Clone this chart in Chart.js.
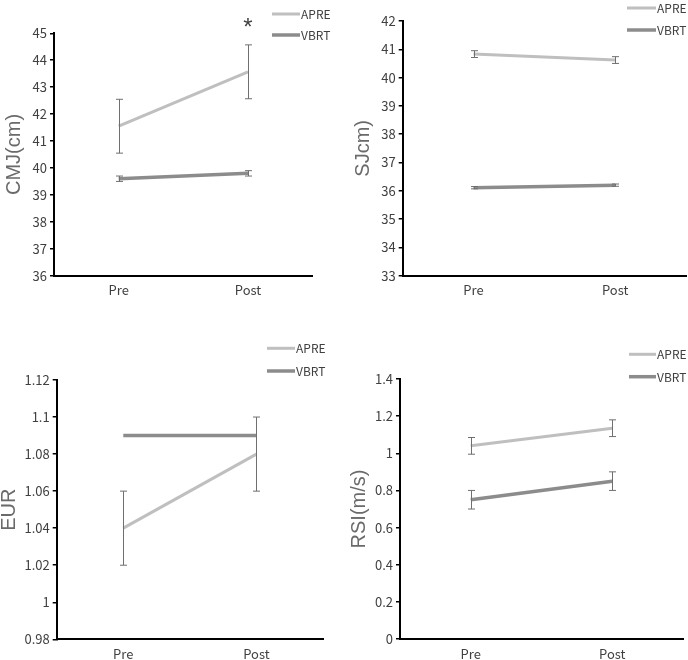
<!DOCTYPE html>
<html>
<head>
<meta charset="utf-8">
<script src="https://cdn.jsdelivr.net/npm/chart.js@4"></script>
<style>
  html, body { margin: 0; padding: 0; background: #fff; }
  canvas { position: absolute; }
</style>
</head>
<body>
<canvas id="cmj" width="344" height="300" style="left:0;top:0"></canvas>
<canvas id="sj" width="344" height="300" style="left:344px;top:0"></canvas>
<canvas id="eur" width="344" height="360" style="left:0;top:300px"></canvas>
<canvas id="rsi" width="344" height="360" style="left:344px;top:300px"></canvas>
<script>
const categories = ['Pre', 'Post'];
const groups = ['APRE', 'VBRT'];

// mean and sd per group
const cmjApre = [41.55, 43.57];
const cmjApreSd = [1.0, 1.0];
const cmjVbrt = [39.6, 39.8];
const cmjVbrtSd = [0.1, 0.1];
const cmjStars = ['', '*'];
const cmjTicks = [36, 45, 1]; // min, max, step

const sjApre = [40.83, 40.62];
const sjApreSd = [0.12, 0.12];
const sjVbrt = [36.11, 36.2];
const sjVbrtSd = [0.04, 0.04];
const sjTicks = [33, 42, 1];

const eurApre = [1.04, 1.08];
const eurApreSd = [0.02, 0.02];
const eurVbrt = [1.09, 1.09];
const eurVbrtSd = [0, 0];
const eurTicks = [0.98, 1.12, 0.02];

const rsiApre = [1.04, 1.135];
const rsiApreSd = [0.045, 0.045];
const rsiVbrt = [0.75, 0.85];
const rsiVbrtSd = [0.05, 0.05];
const rsiTicks = [0, 1.4, 0.2];

const COLORS = ['#bfbfbf', '#8c8c8c'];
const WIDTHS = [3, 3.5];
const FONT = '"Noto Sans CJK SC", "Liberation Sans", sans-serif';

// draws sd whiskers, the legend and the significance star
const extras = {
  id: 'extras',
  afterDatasetsDraw(chart, args, opts) {
    const ctx = chart.ctx;
    const x = chart.scales.x, y = chart.scales.y;
    ctx.save();
    ctx.strokeStyle = '#6f6f6f';
    ctx.lineWidth = 1;
    chart.data.datasets.forEach(ds => {
      ds.data.forEach((v, i) => {
        const e = ds.errors[i];
        if (!e) return;
        const px = Math.round(x.getPixelForValue(i)) + 0.5;
        const top = y.getPixelForValue(v + e), bot = y.getPixelForValue(v - e);
        ctx.beginPath();
        ctx.moveTo(px, top); ctx.lineTo(px, bot);
        ctx.moveTo(px - 3.5, top); ctx.lineTo(px + 3.5, top);
        ctx.moveTo(px - 3.5, bot); ctx.lineTo(px + 3.5, bot);
        ctx.stroke();
      });
    });

    if (opts.stars) {
      const ds = chart.data.datasets[0];
      ctx.fillStyle = '#404040';
      ctx.font = '24px "Liberation Sans", sans-serif';
      ctx.textAlign = 'center';
      ctx.textBaseline = 'alphabetic';
      opts.stars.forEach((s, i) => {
        if (!s) return;
        const top = y.getPixelForValue(ds.data[i] + ds.errors[i]);
        ctx.fillText(s, x.getPixelForValue(i), top - 10);
      });
    }

    const lg = opts.legend;
    ctx.font = '12px ' + FONT;
    ctx.textAlign = 'left';
    ctx.textBaseline = 'middle';
    chart.data.datasets.forEach((ds, k) => {
      const ly = lg.y[k];
      ctx.strokeStyle = ds.borderColor;
      ctx.lineWidth = ds.borderWidth;
      ctx.beginPath();
      ctx.moveTo(lg.x1, ly); ctx.lineTo(lg.x2, ly);
      ctx.stroke();
      ctx.fillStyle = '#404040';
      ctx.fillText(ds.label, lg.x2 + 1, ly + 0.5);
    });
    ctx.restore();
  }
};

function makeChart(id, area, size, title, titlePad, ticks, apre, apreSd, vbrt, vbrtSd, legend, stars) {
  const [l, t, r, b] = area;
  const [w, h] = size;
  new Chart(document.getElementById(id), {
    type: 'line',
    data: {
      labels: categories,
      datasets: [
        { label: groups[0], data: apre, errors: apreSd, borderColor: COLORS[0], backgroundColor: COLORS[0], borderWidth: WIDTHS[0] },
        { label: groups[1], data: vbrt, errors: vbrtSd, borderColor: COLORS[1], backgroundColor: COLORS[1], borderWidth: WIDTHS[1] }
      ]
    },
    options: {
      responsive: false,
      animation: false,
      events: [],
      elements: { point: { radius: 0 }, line: { tension: 0, borderCapStyle: 'butt' } },
      layout: { padding: { left: 0, top: t, right: w - r, bottom: 0 } },
      plugins: {
        legend: { display: false },
        tooltip: { enabled: false },
        extras: { legend, stars }
      },
      scales: {
        x: {
          offset: true,
          grid: { display: false, drawTicks: false },
          border: { display: true, color: '#000', width: 2 },
          ticks: { color: '#404040', padding: 7, font: { family: FONT, size: 13 } },
          afterFit: s => { s.height = h - b; }
        },
        y: {
          min: ticks[0], max: ticks[1],
          grid: { display: true, drawOnChartArea: false, drawTicks: true, tickLength: 4, color: '#000', lineWidth: 1.5 },
          border: { display: true, color: '#000', width: 2 },
          ticks: {
            stepSize: ticks[2], color: '#404040', padding: 3,
            font: { family: FONT, size: 13 },
            callback: v => String(Math.round(v * 100) / 100)
          },
          title: {
            display: true, text: title, color: '#6a6a6a',
            padding: { top: titlePad, bottom: 0 },
            font: { family: '"Liberation Sans", sans-serif', size: 20, lineHeight: 1 }
          },
          afterFit: s => { s.width = l; }
        }
      }
    },
    plugins: [extras]
  });
}

makeChart('cmj', [54, 33.3, 312.7, 275.7], [344, 300], 'CMJ(cm)', 4, cmjTicks,
  cmjApre, cmjApreSd, cmjVbrt, cmjVbrtSd, { x1: 272, x2: 300, y: [14, 35] }, cmjStars);
makeChart('sj', [58.7, 21, 342, 275.7], [344, 300], 'SJcm)', 9, sjTicks,
  sjApre, sjApreSd, sjVbrt, sjVbrtSd, { x1: 283, x2: 312, y: [8, 30] });
makeChart('eur', [56.7, 80, 323, 339.3], [344, 360], 'EUR', -1, eurTicks,
  eurApre, eurApreSd, eurVbrt, eurVbrtSd, { x1: 267, x2: 295, y: [48.3, 71] });
makeChart('rsi', [56, 79, 339, 339], [344, 360], 'RSI(m/s)', 5, rsiTicks,
  rsiApre, rsiApreSd, rsiVbrt, rsiVbrtSd, { x1: 285, x2: 312, y: [54.3, 76.7] });
</script>
</body>
</html>
